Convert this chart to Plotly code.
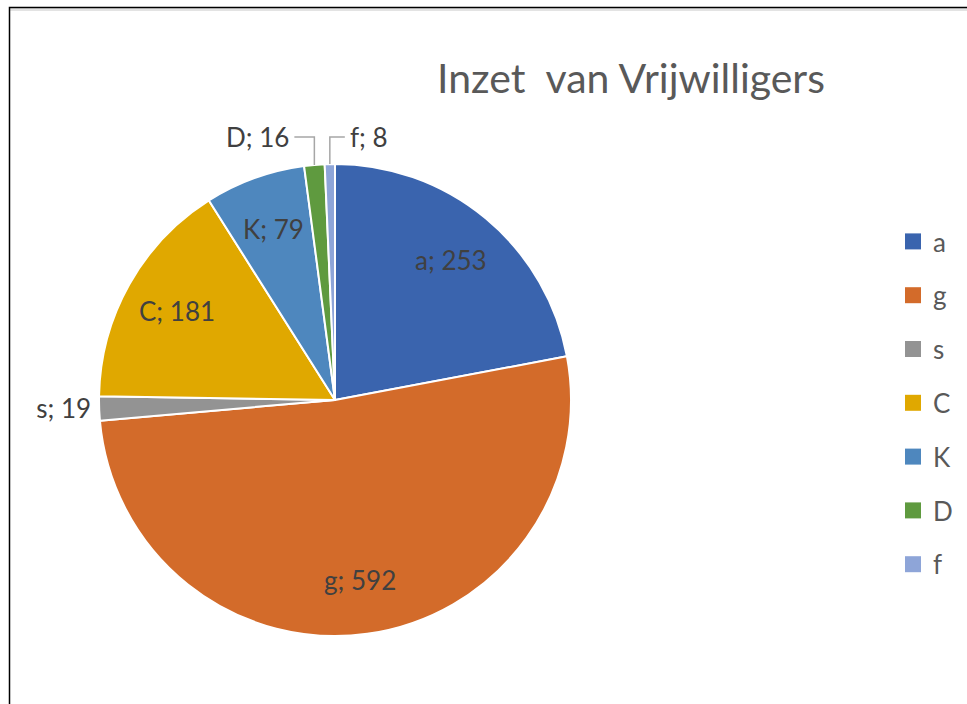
import math
import plotly.graph_objects as go

# ---- data ----
labels = ["a", "g", "s", "C", "K", "D", "f"]
values = [253, 592, 19, 181, 79, 16, 8]
colors = ["#3A64AE", "#D36B2A", "#939393", "#E0A800", "#4E87BE", "#5F9A3F", "#8EA5D8"]
title_text = "Inzet\u00a0\u00a0van Vrijwilligers"

W, H = 967, 704
FONT = "Lato"
LABEL_SIZE = 26
TEXT_COL = "#404040"

# pie placement (pixels)
cx_px, cy_px, R_px = 335, 400, 236
dom_x = [(cx_px - R_px) / W, (cx_px + R_px) / W]
dom_y = [1 - (cy_px + R_px) / H, 1 - (cy_px - R_px) / H]

# label style per slice: inside / outside (native) / leader (elbow line)
label_mode = ["inside", "inside", "outside", "inside", "inside", "leader", "leader"]

fig = go.Figure()
fig.add_trace(go.Pie(
    labels=labels, values=values, sort=False, direction="clockwise", rotation=0,
    marker=dict(colors=colors, line=dict(color="white", width=2)),
    texttemplate="%{label}; %{value}",
    textposition=["outside" if m == "outside" else "none" for m in label_mode],
    textfont=dict(family=FONT, size=LABEL_SIZE, color=TEXT_COL),
    domain=dict(x=dom_x, y=dom_y), showlegend=False, hoverinfo="label+value+percent",
))

# data labels positioned from the slice angles
total = sum(values)
cum = 0
shapes = []
annotations = []
ly = 137  # leader label row (pixels)
for lab, v, mode in zip(labels, values, label_mode):
    mid = (cum + v / 2) / total * 2 * math.pi
    cum += v
    s, c = math.sin(mid), math.cos(mid)
    if mode == "inside":
        r = 0.77 * R_px
        annotations.append(dict(x=(cx_px + r * s) / W, y=1 - (cy_px - r * c) / H,
                                xref="paper", yref="paper", showarrow=False,
                                xanchor="center", yanchor="middle", text=f"{lab}; {v}",
                                font=dict(family=FONT, size=LABEL_SIZE, color=TEXT_COL)))
    elif mode == "leader":
        ex = cx_px + R_px * s
        ey = cy_px - R_px * c
        left = s < -0.05
        hx = ex - 20 if left else ex + 15
        shapes.append(dict(type="path", xref="paper", yref="paper",
                           path=f"M {ex/W},{1-ey/H} L {ex/W},{1-ly/H} L {hx/W},{1-ly/H}",
                           line=dict(color="#A6A6A6", width=1.5)))
        annotations.append(dict(x=(hx - 3) / W if left else (hx + 3) / W, y=1 - ly / H,
                                xref="paper", yref="paper", showarrow=False,
                                xanchor="right" if left else "left", yanchor="middle",
                                text=f"{lab}; {v}",
                                font=dict(family=FONT, size=LABEL_SIZE, color=TEXT_COL)))

# legend entries (one per category)
for lab, col in zip(labels, colors):
    fig.add_trace(go.Scatter(x=[None], y=[None], mode="markers", name=lab,
                             legendgroup=lab,
                             marker=dict(symbol="square", size=16, color=col)))

# frame lines (left and top edges of the chart area)
shapes += [
    dict(type="rect", xref="paper", yref="paper", x0=10 / W, x1=1, y0=1 - 11 / H, y1=1 - 8 / H,
         fillcolor="#E3E3E3", line=dict(width=0), layer="below"),
    dict(type="path", xref="paper", yref="paper",
         path=f"M {9.5/W},0 L {9.5/W},{1-7.5/H} L 1,{1-7.5/H}",
         line=dict(color="black", width=1.5)),
]

fig.update_layout(
    width=W, height=H,
    margin=dict(l=0, r=0, t=0, b=0),
    paper_bgcolor="white", plot_bgcolor="white",
    title=dict(text=title_text, x=631 / W, xanchor="center", y=1 - 79 / H, yanchor="middle",
               font=dict(family=FONT, size=41, color="#595959")),
    xaxis=dict(visible=False), yaxis=dict(visible=False),
    legend=dict(x=893 / W, xanchor="left", y=1 - 218 / H, yanchor="top",
                font=dict(family=FONT, size=LABEL_SIZE, color="#595959"),
                tracegroupgap=17, bgcolor="rgba(0,0,0,0)"),
    shapes=shapes, annotations=annotations,
)

fig.write_html("out.html", config={"displayModeBar": False},
               post_script="document.body.style.margin='0';")
